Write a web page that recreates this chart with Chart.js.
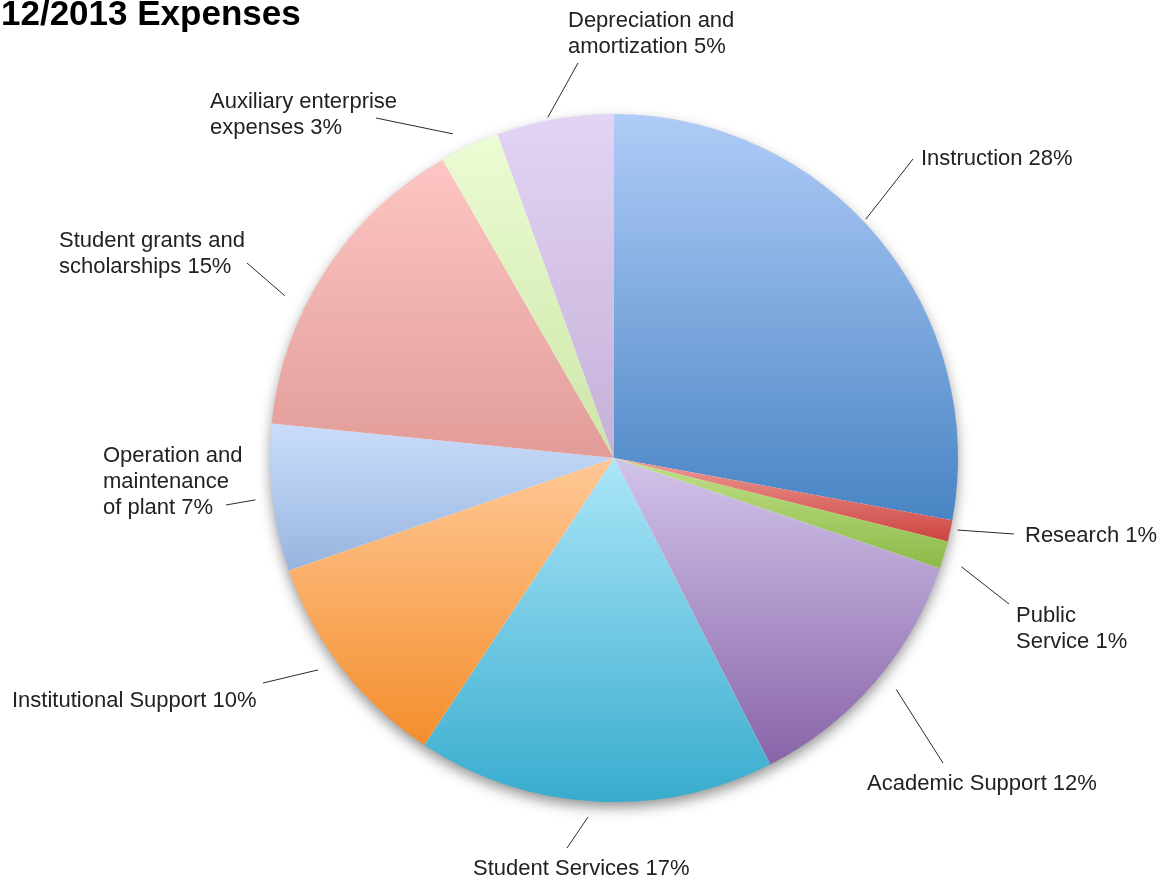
<!DOCTYPE html>
<html>
<head>
<meta charset="utf-8">
<script src="https://cdn.jsdelivr.net/npm/chart.js@4"></script>
<style>
  html, body { margin: 0; padding: 0; background: #ffffff; }
  #wrap { width: 1163px; height: 882px; position: relative; }
  canvas { display: block; }
</style>
</head>
<body>
<div id="wrap"><canvas id="c" width="1163" height="882"></canvas></div>
<script>
// ---- data ----
const titleText = '12/2013 Expenses';
const categories = [
  'Instruction', 'Research', 'Public Service', 'Academic Support', 'Student Services',
  'Institutional Support', 'Operation and maintenance of plant',
  'Student grants and scholarships', 'Auxiliary enterprise expenses',
  'Depreciation and amortization'
];
const shares = [27.9, 1.0, 1.3, 12.3, 16.8, 10.4, 6.9, 15.1, 2.8, 5.5];
const labelTexts = [
  ['Instruction 28%'],
  ['Research 1%'],
  ['Public', 'Service 1%'],
  ['Academic Support 12%'],
  ['Student Services 17%'],
  ['Institutional Support 10%'],
  ['Operation and', 'maintenance', 'of plant 7%'],
  ['Student grants and', 'scholarships 15%'],
  ['Auxiliary enterprise', 'expenses 3%'],
  ['Depreciation and', 'amortization 5%']
];

// ---- styles ----
const topColors = ['#b0ccf7', '#ee9a96', '#c2e08a', '#d2c4ea', '#abe6f8', '#ffc896', '#c9ddfb', '#fdc6c4', '#ecfcd4', '#e2d4f4'];
const bottomColors = ['#4884c4', '#cc4440', '#8cba48', '#8864a8', '#38acce', '#f48e2c', '#98b4de', '#e29c98', '#cce6a6', '#c6b0d8'];
// label layout: angle nudge (deg), radial gap (px), outer line end offset, text offset (from pie centre)
const labelLayout = [
  { nudge: -3.7, gap: 3,  end: [299, -299], text: [307, -293] },
  { nudge: -0.4, gap: 7,  end: [400, 76],   text: [411, 84] },
  { nudge: 1.0,  gap: 20, end: [395, 146],  text: [402, 164] },
  { nudge: -1.5, gap: 21, end: [329, 305],  text: [253, 332] },
  { nudge: 0.9,  gap: 16, end: [-47, 390],  text: [-141, 417] },
  { nudge: 2.2,  gap: 20, end: [-351, 225], text: [-602, 249] },
  { nudge: 0.0,  gap: 17, end: [-388, 47],  text: [-511, 4] },
  { nudge: -6.7, gap: 23, end: [-367, -195], text: [-555, -211] },
  { nudge: -1.6, gap: 18, end: [-238, -340], text: [-404, -350] },
  { nudge: -1.1, gap: 3,  end: [-36, -395], text: [-46, -431] }
];
const labelFont = '22px "Liberation Sans", Arial, sans-serif';
const labelLineHeight = 26;

function sliceGradient(context) {
  const chart = context.chart;
  const i = context.dataIndex;
  const area = chart.chartArea;
  if (!area || i === undefined) return topColors[i] || '#ccc';
  const cx = (area.left + area.right) / 2;
  const cy = (area.top + area.bottom) / 2;
  const r = Math.min(area.right - area.left, area.bottom - area.top) / 2;
  const data = context.dataset.data;
  const total = data.reduce((a, b) => a + b, 0);
  let before = 0;
  for (let k = 0; k < i; k++) before += data[k];
  const a0 = -Math.PI / 2 + before / total * 2 * Math.PI;
  const a1 = a0 + data[i] / total * 2 * Math.PI;
  let ys = [cy, cy + r * Math.sin(a0), cy + r * Math.sin(a1)];
  const crosses = (target) => {
    for (let t = target - 4 * Math.PI; t <= a1 + 0.0001; t += 2 * Math.PI) {
      if (t >= a0 && t <= a1) return true;
    }
    return false;
  };
  if (crosses(-Math.PI / 2)) ys.push(cy - r);
  if (crosses(Math.PI / 2)) ys.push(cy + r);
  const minY = Math.min(...ys), maxY = Math.max(...ys);
  const g = chart.ctx.createLinearGradient(0, minY, 0, Math.max(maxY, minY + 1));
  g.addColorStop(0, topColors[i]);
  g.addColorStop(1, bottomColors[i]);
  return g;
}

const decorPlugin = {
  id: 'decor',
  beforeDatasetsDraw(chart) {
    const meta = chart.getDatasetMeta(0);
    const arc = meta.data[0];
    if (!arc) return;
    const ctx = chart.ctx;
    ctx.save();
    ctx.beginPath();
    ctx.arc(arc.x, arc.y, arc.outerRadius - 1, 0, Math.PI * 2);
    ctx.fillStyle = '#ffffff';
    ctx.shadowColor = 'rgba(0,0,0,0.45)';
    ctx.shadowBlur = 14;
    ctx.shadowOffsetY = 6;
    ctx.fill();
    ctx.restore();
  },
  afterDatasetsDraw(chart) {
    const ctx = chart.ctx;
    const meta = chart.getDatasetMeta(0);
    ctx.save();
    // title
    ctx.fillStyle = '#000000';
    ctx.font = 'bold 35px "Liberation Sans", Arial, sans-serif';
    ctx.textBaseline = 'alphabetic';
    ctx.textAlign = 'left';
    ctx.fillText(titleText, 1, 25);
    // labels
    ctx.font = labelFont;
    meta.data.forEach((arc, i) => {
      const lay = labelLayout[i];
      const mid = (arc.startAngle + arc.endAngle) / 2 + lay.nudge * Math.PI / 180;
      const rr = arc.outerRadius + lay.gap;
      const sx = arc.x + rr * Math.cos(mid);
      const sy = arc.y + rr * Math.sin(mid);
      ctx.beginPath();
      ctx.moveTo(sx, sy);
      ctx.lineTo(arc.x + lay.end[0], arc.y + lay.end[1]);
      ctx.strokeStyle = '#2a2a2a';
      ctx.lineWidth = 1;
      ctx.stroke();
      ctx.fillStyle = '#222222';
      labelTexts[i].forEach((line, j) => {
        ctx.fillText(line, arc.x + lay.text[0], arc.y + lay.text[1] + j * labelLineHeight);
      });
    });
    ctx.restore();
  }
};

new Chart(document.getElementById('c'), {
  type: 'pie',
  data: {
    labels: categories,
    datasets: [{
      data: shares,
      backgroundColor: sliceGradient,
      borderWidth: 0,
      hoverOffset: 0
    }]
  },
  options: {
    responsive: false,
    animation: false,
    devicePixelRatio: 1,
    layout: { padding: { left: 270, right: 205, top: 114, bottom: 80 } },
    plugins: {
      legend: { display: false },
      tooltip: { enabled: false },
      title: { display: false }
    }
  },
  plugins: [decorPlugin]
});
</script>
</body>
</html>
